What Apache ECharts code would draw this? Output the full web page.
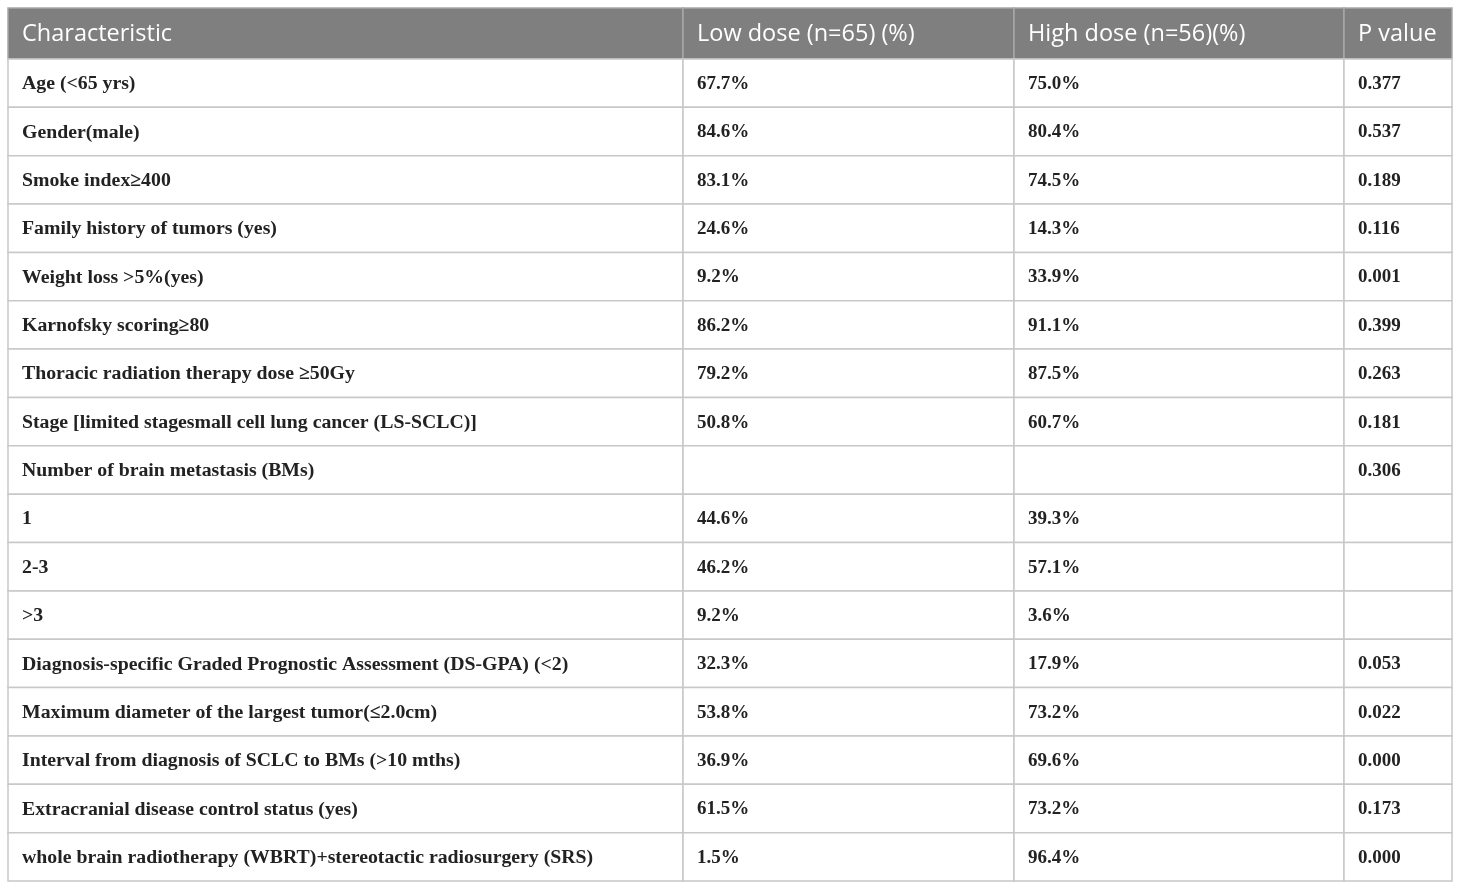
<!DOCTYPE html>
<html lang="en">
<head>
    <meta charset="UTF-8">
    <title>Table</title>
    <script type="text/javascript" src="https://cdn.jsdelivr.net/npm/echarts@6/dist/echarts.min.js"></script>
    <style>
        html, body {margin: 0; padding: 0; background: #fff;}
    </style>
</head>
<body>
<div id="main" style="width: 1460px;height: 889px"></div>
</body>
<script>
    var headers = ["Characteristic", "Low dose (n=65) (%)", "High dose (n=56)(%)", "P value"]
    var characteristics = [
        "Age (<65 yrs)",
        "Gender(male)",
        "Smoke index\u2265400",
        "Family history of tumors (yes)",
        "Weight loss >5%(yes)",
        "Karnofsky scoring\u226580",
        "Thoracic radiation therapy dose \u226550Gy",
        "Stage [limited stagesmall cell lung cancer (LS-SCLC)]",
        "Number of brain metastasis (BMs)",
        "1",
        "2-3",
        ">3",
        "Diagnosis-specific Graded Prognostic Assessment (DS-GPA) (<2)",
        "Maximum diameter of the largest tumor(\u22642.0cm)",
        "Interval from diagnosis of SCLC to BMs (>10 mths)",
        "Extracranial disease control status (yes)",
        "whole brain radiotherapy (WBRT)+stereotactic radiosurgery (SRS)"
    ]
    var lowDose = [67.7, 84.6, 83.1, 24.6, 9.2, 86.2, 79.2, 50.8, null, 44.6, 46.2, 9.2, 32.3, 53.8, 36.9, 61.5, 1.5]
    var highDose = [75.0, 80.4, 74.5, 14.3, 33.9, 91.1, 87.5, 60.7, null, 39.3, 57.1, 3.6, 17.9, 73.2, 69.6, 73.2, 96.4]
    var pValues = [0.377, 0.537, 0.189, 0.116, 0.001, 0.399, 0.263, 0.181, 0.306, null, null, null, 0.053, 0.022, 0.000, 0.173, 0.000]

    // layout of the table (in pixels of the grid)
    var colEdges = [0, 675, 1006, 1336, 1444]
    var headH = 51
    var rowH = 48.35
    var totalH = headH + rowH * characteristics.length

    function rowTop(r) { return r === 0 ? 0 : headH + (r - 1) * rowH }
    function rowBottom(r) { return r === 0 ? headH : headH + r * rowH }

    var cells = []
    headers.forEach(function (h, c) { cells.push([c, 0, h]) })
    characteristics.forEach(function (name, i) {
        var r = i + 1
        cells.push([0, r, name])
        cells.push([1, r, lowDose[i] == null ? "" : lowDose[i].toFixed(1) + "%"])
        cells.push([2, r, highDose[i] == null ? "" : highDose[i].toFixed(1) + "%"])
        cells.push([3, r, pValues[i] == null ? "" : pValues[i].toFixed(3)])
    })

    var myChart = echarts.init(document.getElementById("main"))
    myChart.setOption({
        animation: false,
        grid: {left: 8, top: 8, width: 1444, height: 873},
        xAxis: {type: "value", min: 0, max: colEdges[colEdges.length - 1], show: false},
        yAxis: {type: "value", min: 0, max: totalH, inverse: true, show: false},
        series: [{
            type: "custom",
            data: cells,
            renderItem: function (params, api) {
                var c = api.value(0), r = api.value(1)
                var txt = cells[params.dataIndex][2]
                var p0 = api.coord([colEdges[c], rowTop(r)])
                var p1 = api.coord([colEdges[c + 1], rowBottom(r)])
                var isHead = r === 0
                var font = isHead ? "23.5px 'Open Sans'" : (c === 0 ? "bold 19.8px 'Liberation Serif'" : "bold 19px 'Liberation Serif'")
                return {
                    type: "group",
                    children: [{
                        type: "rect",
                        shape: {x: p0[0], y: p0[1], width: p1[0] - p0[0], height: p1[1] - p0[1]},
                        style: {fill: isHead ? "#7f7f7f" : "#fff", stroke: isHead ? "#a8a8a8" : "#c8c8c8", lineWidth: 1.5}
                    }, {
                        type: "text",
                        x: p0[0] + 14,
                        y: (p0[1] + p1[1]) / 2 + 1,
                        style: {
                            text: txt,
                            fill: isHead ? "#fff" : "#222",
                            font: font,
                            verticalAlign: "middle",
                            align: "left"
                        }
                    }]
                }
            }
        }]
    })
</script>
</html>
